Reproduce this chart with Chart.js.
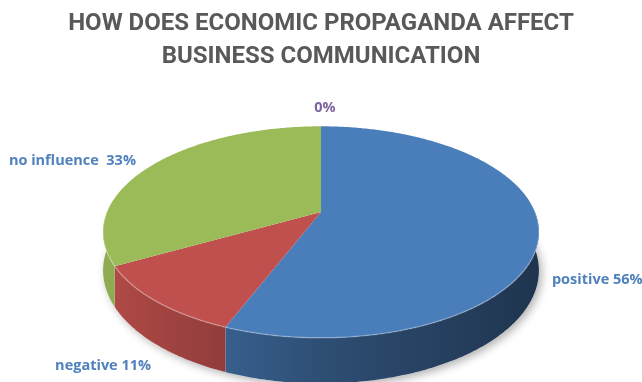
<!DOCTYPE html>
<html>
<head>
<meta charset="utf-8">
<script src="https://cdn.jsdelivr.net/npm/chart.js@4.4.0/dist/chart.umd.min.js"></script>
<style>
  html, body { margin: 0; padding: 0; background: #fff; }
  #wrap { width: 642px; height: 382px; }
</style>
</head>
<body>
<div id="wrap"><canvas id="pie"></canvas></div>
<script>
const categories = ['positive', 'negative', 'no influence ', ''];
const shares = [56, 11, 33, 0];
const sliceColors = ['#4a7ebb', '#c0504d', '#9bbb59', '#8064a2'];
const labelColors = ['#4f81bd', '#4f81bd', '#4f81bd', '#8064a2'];
const titleLines = ['HOW DOES ECONOMIC PROPAGANDA AFFECT', 'BUSINESS COMMUNICATION'];

// tilted disc: half axes, perspective and wall height
const RX = 214, RY = 102, PERSP = -0.189, DEPTH = 37;

function proj(cx, cy, ang, r, z) {
  const c = Math.cos(ang) * r, s = Math.sin(ang) * r;
  const w = 1 + PERSP * s;
  return [cx + RX * c / w, cy + (RY * s + z) / w];
}

function rgb(hex) {
  const n = parseInt(hex.slice(1), 16);
  return [n >> 16, (n >> 8) & 255, n & 255];
}
function shade(hex, k) {
  const c = rgb(hex).map(v => Math.round(v * k));
  return `rgb(${c[0]},${c[1]},${c[2]})`;
}

// label offsets from the rim point at the middle of each slice
const nudge = [[13, 48, 'left'], [-5, 65, 'right'], [-17, -4, 'right'], [4, -18, 'center']];

const pie3d = {
  id: 'pie3d',
  beforeDatasetsDraw(chart) {
    const ctx = chart.ctx;
    const arcs = chart.getDatasetMeta(0).data;
    const cx = arcs[0].x, cy = arcs[0].y;
    const step = 0.01;

    // soft shadow under the base
    ctx.save();
    ctx.beginPath();
    for (let a = 0; a <= Math.PI * 2 + step; a += step) {
      const p = proj(cx, cy, a, 1, DEPTH);
      a === 0 ? ctx.moveTo(p[0], p[1]) : ctx.lineTo(p[0], p[1]);
    }
    ctx.closePath();
    ctx.shadowColor = 'rgba(0,0,0,0.3)';
    ctx.shadowBlur = 8;
    ctx.shadowOffsetX = 3;
    ctx.shadowOffsetY = 3;
    ctx.fillStyle = '#ffffff';
    ctx.fill();
    ctx.restore();

    // outer walls, front half only
    arcs.forEach((arc, i) => {
      const s = Math.max(arc.startAngle, 0), e = Math.min(arc.endAngle, Math.PI);
      if (e <= s) return;
      const n = Math.max(2, Math.ceil((e - s) / step));
      ctx.beginPath();
      for (let k = 0; k <= n; k++) {
        const p = proj(cx, cy, s + (e - s) * k / n, 1, 0);
        k === 0 ? ctx.moveTo(p[0], p[1]) : ctx.lineTo(p[0], p[1]);
      }
      for (let k = n; k >= 0; k--) {
        const p = proj(cx, cy, s + (e - s) * k / n, 1, DEPTH);
        ctx.lineTo(p[0], p[1]);
      }
      ctx.closePath();
      const g = ctx.createLinearGradient(cx - RX, 0, cx + RX, 0);
      g.addColorStop(0, shade(sliceColors[i], 0.92));
      g.addColorStop(0.5, shade(sliceColors[i], 0.62));
      g.addColorStop(1, shade(sliceColors[i], 0.42));
      ctx.fillStyle = g;
      ctx.fill();
    });

    // top faces
    arcs.forEach((arc, i) => {
      const s = arc.startAngle, e = arc.endAngle;
      if (e - s <= 0) return;
      const n = Math.max(2, Math.ceil((e - s) / step));
      ctx.beginPath();
      ctx.moveTo(cx, cy);
      for (let k = 0; k <= n; k++) {
        const p = proj(cx, cy, s + (e - s) * k / n, 1, 0);
        ctx.lineTo(p[0], p[1]);
      }
      ctx.closePath();
      ctx.fillStyle = sliceColors[i];
      ctx.fill();
    });

    // light bevel along the front rim
    ctx.save();
    ctx.beginPath();
    for (let a = 0; a <= Math.PI; a += step) {
      const p = proj(cx, cy, a, 1, 0);
      a === 0 ? ctx.moveTo(p[0], p[1]) : ctx.lineTo(p[0], p[1]);
    }
    ctx.strokeStyle = 'rgba(255,255,255,0.25)';
    ctx.lineWidth = 1.5;
    ctx.stroke();
    ctx.restore();

    return false;
  },
  afterDraw(chart) {
    const ctx = chart.ctx;
    const arcs = chart.getDatasetMeta(0).data;
    const cx = arcs[0].x, cy = arcs[0].y;
    ctx.save();
    ctx.font = 'bold 14.5px "Open Sans"';
    ctx.textBaseline = 'middle';
    arcs.forEach((arc, i) => {
      const mid = (arc.startAngle + arc.endAngle) / 2;
      const p = proj(cx, cy, mid, 1, 0);
      const [dx, dy, align] = nudge[i];
      ctx.textAlign = align;
      ctx.fillStyle = labelColors[i];
      ctx.fillText(`${categories[i]} ${shares[i]}%`.trim(), p[0] + dx, p[1] + dy);
    });
    ctx.restore();
  }
};

new Chart(document.getElementById('pie'), {
  type: 'pie',
  data: {
    labels: categories,
    datasets: [{ data: shares, backgroundColor: sliceColors, borderWidth: 0 }]
  },
  options: {
    responsive: true,
    maintainAspectRatio: false,
    animation: false,
    layout: { padding: { bottom: 40 } },
    plugins: {
      legend: { display: false },
      tooltip: { enabled: false },
      title: {
        display: true,
        text: titleLines,
        color: '#595959',
        font: { family: 'Roboto', size: 24, weight: 'bold', lineHeight: 1.4 },
        padding: { top: 7, bottom: 8 }
      }
    }
  },
  plugins: [pie3d]
});
</script>
</body>
</html>
